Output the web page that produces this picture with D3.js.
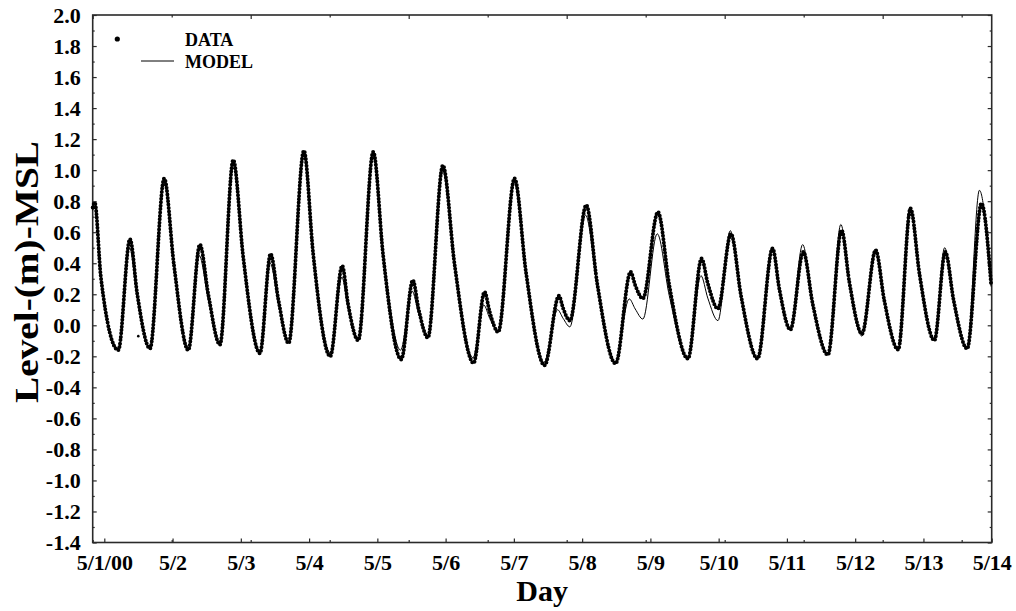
<!DOCTYPE html>
<html>
<head>
<meta charset="utf-8">
<script src="https://cdn.jsdelivr.net/npm/d3@7/dist/d3.min.js"></script>
<style>
  html, body { margin: 0; padding: 0; background: #fff; }
  svg { display: block; }
  text { font-family: "Liberation Serif", "Times New Roman", serif; font-weight: bold; fill: #000; }
</style>
</head>
<body>
<svg id="chart" width="1016" height="611"></svg>
<script>
// Observed water level, days counted from 5/1/2000 00:00
const dataDays = [-0.17, -0.14, -0.05, 0.205, 0.376, 0.483, 0.669, 0.878, 1.02, 1.23, 1.40, 1.523, 1.694, 1.889, 2.035, 2.28, 2.436, 2.548, 2.70, 2.924, 3.06, 3.31, 3.485, 3.57, 3.72, 3.94, 4.085, 4.35, 4.52, 4.604, 4.74, 4.96, 5.131, 5.41, 5.57, 5.646, 5.77, 6.01, 6.177, 6.45, 6.66, 6.721, 6.82, 7.06, 7.223, 7.49, 7.71, 7.778, 7.89, 8.11, 8.277, 8.55, 8.75, 8.841, 8.99, 9.18, 9.328, 9.57, 9.79, 9.889, 10.05, 10.24, 10.377, 10.60, 10.80, 10.914, 11.10, 11.30, 11.425, 11.63, 11.81, 11.943, 12.16, 12.32, 12.442, 12.64, 12.85, 12.99];
const dataLevels = [0.76, 0.79, 0.31, -0.16, 0.555, 0.20, -0.15, 0.946, 0.39, -0.16, 0.52, 0.20, -0.125, 1.065, 0.44, -0.18, 0.46, 0.17, -0.115, 1.125, 0.46, -0.20, 0.383, 0.14, -0.097, 1.118, 0.45, -0.22, 0.29, 0.105, -0.08, 1.03, 0.394, -0.243, 0.215, 0.086, -0.043, 0.946, 0.344, -0.258, 0.19, 0.11, 0.03, 0.774, 0.264, -0.247, 0.344, 0.258, 0.172, 0.73, 0.258, -0.215, 0.43, 0.27, 0.107, 0.59, 0.19, -0.215, 0.495, 0.234, -0.028, 0.473, 0.14, -0.19, 0.613, 0.28, -0.054, 0.484, 0.164, -0.157, 0.753, 0.328, -0.097, 0.473, 0.162, -0.15, 0.785, 0.27];
// Isolated observation
const strayDays = [0.498];
const strayLevels = [-0.07];

// Model water level
const modelDays = [-0.17, -0.14, -0.05, 0.21, 0.37, 0.483, 0.675, 0.875, 1.02, 1.235, 1.39, 1.523, 1.70, 1.885, 2.035, 2.285, 2.43, 2.548, 2.705, 2.92, 3.06, 3.315, 3.48, 3.57, 3.725, 3.935, 4.085, 4.34, 4.51, 4.604, 4.74, 4.955, 5.131, 5.40, 5.56, 5.646, 5.77, 6.005, 6.177, 6.44, 6.64, 6.721, 6.82, 7.05, 7.223, 7.48, 7.69, 7.778, 7.89, 8.10, 8.277, 8.55, 8.74, 8.841, 8.99, 9.17, 9.328, 9.57, 9.78, 9.889, 10.05, 10.23, 10.377, 10.60, 10.79, 10.914, 11.10, 11.29, 11.425, 11.63, 11.80, 11.943, 12.16, 12.31, 12.442, 12.64, 12.82, 12.99];
const modelLevels = [0.74, 0.77, 0.30, -0.15, 0.50, 0.175, -0.15, 0.93, 0.39, -0.15, 0.45, 0.165, -0.12, 1.04, 0.435, -0.17, 0.40, 0.145, -0.11, 1.10, 0.46, -0.18, 0.31, 0.11, -0.09, 1.10, 0.47, -0.16, 0.22, 0.075, -0.07, 1.00, 0.40, -0.21, 0.13, 0.045, -0.04, 0.92, 0.35, -0.24, 0.10, 0.045, -0.01, 0.71, 0.25, -0.24, 0.17, 0.105, 0.04, 0.59, 0.19, -0.21, 0.32, 0.175, 0.03, 0.61, 0.19, -0.21, 0.50, 0.235, -0.03, 0.52, 0.15, -0.19, 0.65, 0.28, -0.07, 0.49, 0.165, -0.16, 0.76, 0.33, -0.10, 0.50, 0.17, -0.15, 0.87, 0.25];

// Axis labels
const dayTickValues = [0, 1, 2, 3, 4, 5, 6, 7, 8, 9, 10, 11, 12, 13];
const dayTickLabels = ["5/1/00", "5/2", "5/3", "5/4", "5/5", "5/6", "5/7", "5/8", "5/9", "5/10", "5/11", "5/12", "5/13", "5/14"];
const levelTicks = [2.0, 1.8, 1.6, 1.4, 1.2, 1.0, 0.8, 0.6, 0.4, 0.2, 0.0, -0.2, -0.4, -0.6, -0.8, -1.0, -1.2, -1.4];
const seriesNames = ["DATA", "MODEL"];

const svg = d3.select("#chart");
const plotLeft = 92.7, plotRight = 991.7, plotTop = 15, plotBottom = 542.5;

const x = d3.scaleLinear().domain([-0.17, 13]).range([plotLeft, plotRight]);
const y = d3.scaleLinear().domain([-1.4, 2.0]).range([plotBottom, plotTop]);
// Secondary frame scale used for the unlabeled border ticks
const xb = d3.scaleLinear().domain([0, 11.38]).range([plotLeft, plotRight]);

const frame = "#2a2a2a";
const styleTicks = g => {
  g.select(".domain").remove();
  g.selectAll("line").attr("stroke", frame).attr("stroke-width", 1.2);
};
const fmt = d => d3.format(".1f")(d).replace("−", "-");

// Left axis with labels, ticks pointing inward
const gL = svg.append("g").attr("transform", `translate(${plotLeft},0)`)
  .call(d3.axisLeft(y).tickValues(levelTicks).tickSize(-4).tickPadding(12).tickFormat(fmt))
  .call(styleTicks);
gL.selectAll("text").style("font-size", "22px").attr("dy", "0.34em");

// Minor level ticks (0.1 steps) and mirrored right-hand ticks
const minorLevels = d3.range(-13, 20, 2).map(k => k / 10);
svg.append("g").attr("transform", `translate(${plotLeft},0)`)
  .call(d3.axisLeft(y).tickValues(minorLevels).tickSize(-2).tickFormat(""))
  .call(styleTicks);
svg.append("g").attr("transform", `translate(${plotRight},0)`)
  .call(d3.axisRight(y).tickValues(levelTicks).tickSize(-4).tickFormat(""))
  .call(styleTicks);
svg.append("g").attr("transform", `translate(${plotRight},0)`)
  .call(d3.axisRight(y).tickValues(minorLevels).tickSize(-2).tickFormat(""))
  .call(styleTicks);

// Bottom axis: day ticks and labels
const gB = svg.append("g").attr("transform", `translate(0,${plotBottom})`)
  .call(d3.axisBottom(x).tickValues(dayTickValues).tickSize(-4).tickPadding(12)
    .tickFormat((d, i) => dayTickLabels[i]))
  .call(styleTicks);
gB.selectAll("text").style("font-size", "22px").attr("dy", "0.7em");

// Border ticks on top and bottom edges
const borderMajor = d3.range(0, 12, 2);
const borderMinor = d3.range(1, 12, 2);
function borderTicks(axisFn, pos, vals, size) {
  svg.append("g").attr("transform", `translate(0,${pos})`)
    .call(axisFn(xb).tickValues(vals).tickSize(-size).tickFormat(""))
    .call(styleTicks);
}
borderTicks(d3.axisTop, plotTop, borderMajor, 4);
borderTicks(d3.axisTop, plotTop, borderMinor, 2.5);
borderTicks(d3.axisBottom, plotBottom, borderMajor, 2.5);
borderTicks(d3.axisBottom, plotBottom, borderMinor, 2.5);

// Plot frame
svg.append("rect").attr("x", plotLeft).attr("y", plotTop)
  .attr("width", plotRight - plotLeft).attr("height", plotBottom - plotTop)
  .attr("fill", "none").attr("stroke", frame).attr("stroke-width", 1.6);

// Series
const plot = svg.append("g");
const line = d3.line().x(d => x(d[0])).y(d => y(d[1])).curve(d3.curveMonotoneX);

const modelPts = modelDays.map((d, i) => [d, modelLevels[i]]);
const dataPts = dataDays.map((d, i) => [d, dataLevels[i]]);

plot.append("path").datum(modelPts).attr("d", line)
  .attr("fill", "none").attr("stroke", "#000").attr("stroke-width", 1);

plot.append("path").datum(dataPts).attr("d", line)
  .attr("fill", "none").attr("stroke", "#000").attr("stroke-width", 4)
  .attr("stroke-linecap", "round").attr("stroke-dasharray", "0 3.4");

plot.selectAll("circle.stray").data(strayDays).join("circle")
  .attr("class", "stray").attr("cx", d => x(d)).attr("cy", (d, i) => y(strayLevels[i]))
  .attr("r", 1.3).attr("fill", "#000");

// Legend
const legend = svg.append("g");
legend.append("circle").attr("cx", 117.3).attr("cy", 39).attr("r", 2.6).attr("fill", "#000");
legend.append("line").attr("x1", 141).attr("x2", 174).attr("y1", 61).attr("y2", 61)
  .attr("stroke", "#000").attr("stroke-width", 1);
legend.selectAll("text").data(seriesNames).join("text")
  .attr("x", 185).attr("y", (d, i) => 46 + i * 22)
  .style("font-size", "18px").text(d => d);

// Axis titles
svg.append("text").attr("x", (plotLeft + plotRight) / 2).attr("y", 601)
  .attr("text-anchor", "middle").style("font-size", "30px").text("Day");
svg.append("text").attr("transform", "translate(38,272) rotate(-90)")
  .attr("text-anchor", "middle").style("font-size", "34px")
  .attr("textLength", 262).attr("lengthAdjust", "spacingAndGlyphs")
  .text("Level-(m)-MSL");
</script>
</body>
</html>
